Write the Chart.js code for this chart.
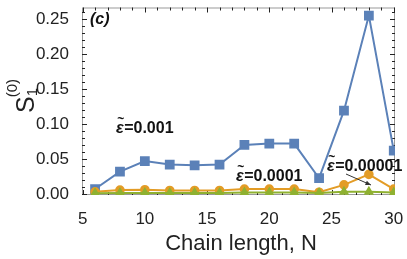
<!DOCTYPE html>
<html>
<head>
<meta charset="utf-8">
<script src="https://cdn.jsdelivr.net/npm/chart.js@4/dist/chart.umd.min.js"></script>
<style>
  body { margin: 0; background: #fff; }
  canvas { display: block; }
</style>
</head>
<body>
<canvas id="myChart" width="407" height="259"></canvas>
<script>
// datos
const chainN = [6, 8, 10, 12, 14, 16, 18, 20, 22, 24, 26, 28, 30];
const eps001 = [0.007, 0.032, 0.047, 0.042, 0.041, 0.042, 0.070, 0.072, 0.072, 0.0225, 0.119, 0.255, 0.062];
const eps0001 = [0.003, 0.0055, 0.006, 0.005, 0.005, 0.005, 0.007, 0.007, 0.007, 0.0025, 0.013, 0.028, 0.007];
const eps00001 = [0.001, 0.0015, 0.0015, 0.0015, 0.0015, 0.0015, 0.002, 0.002, 0.002, 0.0015, 0.003, 0.003, 0.002];
const xTicks = [5, 10, 15, 20, 25, 30];
const yTicks = [0, 0.05, 0.10, 0.15, 0.20, 0.25];
const epsValues = ["0.001", "0.0001", "0.00001"];

const FONT = "'Liberation Sans', Arial, sans-serif";
const BLUE = "#5b81b8";
const ORANGE = "#e39c26";
const GREEN = "#8fb131";

function toPoints(vals) {
  return chainN.map((n, i) => ({ x: n, y: vals[i] }));
}

// epsilon con tilde + valor
function drawEpsLabel(ctx, value, x, y) {
  ctx.font = "italic bold 16px " + FONT;
  ctx.fillText("\u03b5", x, y);
  const ew = ctx.measureText("\u03b5").width;
  ctx.font = "bold 12px " + FONT;
  const tw = ctx.measureText("~").width;
  ctx.fillText("~", x + ew / 2 - tw / 2 + 1, y - 9);
  ctx.font = "bold 16px " + FONT;
  ctx.fillText("=" + value, x + ew + 0.5, y);
}

//Plugin para el marco estilo Mathematica y los textos
const framePlugin = {
  id: "frame",
  beforeDatasetsDraw(chart) {
    const { ctx, chartArea: a, scales } = chart;
    const xs = scales.x, ys = scales.y;
    ctx.save();
    ctx.strokeStyle = "#9a9a9a";
    ctx.lineWidth = 1;
    ctx.strokeRect(a.left + 0.5, a.top + 0.5, a.right - a.left - 1, a.bottom - a.top - 1);
    ctx.strokeStyle = "#222";
    ctx.beginPath();
    for (let n = 5; n <= 30; n++) {
      const px = Math.round(xs.getPixelForValue(n)) + 0.5;
      const len = n % 5 === 0 ? 5 : 3;
      ctx.moveTo(px, a.bottom); ctx.lineTo(px, a.bottom - len);
      ctx.moveTo(px, a.top); ctx.lineTo(px, a.top + len);
    }
    for (let k = 0; k <= 26; k++) {
      const v = k / 100;
      const py = Math.round(ys.getPixelForValue(v)) + 0.5;
      const len = k % 5 === 0 ? 5 : 3;
      ctx.moveTo(a.left, py); ctx.lineTo(a.left + len, py);
      ctx.moveTo(a.right, py); ctx.lineTo(a.right - len, py);
    }
    ctx.stroke();
    ctx.restore();
  },
  afterDatasetsDraw(chart) {
    const { ctx } = chart;
    ctx.save();
    ctx.fillStyle = "#111";
    ctx.textBaseline = "middle";
    ctx.textAlign = "left";
    ctx.font = "italic bold 16px " + FONT;
    ctx.fillText("(c)", 90, 20);
    drawEpsLabel(ctx, epsValues[0], 116, 129);
    drawEpsLabel(ctx, epsValues[1], 236, 177);
    drawEpsLabel(ctx, epsValues[2], 327, 167);

    // flecha
    const x0 = 346, y0 = 174, x1 = 371, y1 = 185;
    ctx.strokeStyle = "#333";
    ctx.fillStyle = "#333";
    ctx.lineWidth = 1;
    ctx.beginPath();
    ctx.moveTo(x0, y0); ctx.lineTo(x1, y1); ctx.stroke();
    const ang = Math.atan2(y1 - y0, x1 - x0);
    ctx.beginPath();
    ctx.moveTo(x1, y1);
    ctx.lineTo(x1 - 6 * Math.cos(ang - 0.4), y1 - 6 * Math.sin(ang - 0.4));
    ctx.lineTo(x1 - 6 * Math.cos(ang + 0.4), y1 - 6 * Math.sin(ang + 0.4));
    ctx.closePath();
    ctx.fill();

    // título eje x
    ctx.fillStyle = "#222";
    ctx.textAlign = "center";
    ctx.textBaseline = "alphabetic";
    ctx.font = "22px " + FONT;
    ctx.fillText("Chain length, N", 241, 250);

    // título eje y: S_1^(0)
    ctx.translate(34, 113);
    ctx.rotate(-Math.PI / 2);
    ctx.textAlign = "left";
    ctx.font = "25px " + FONT;
    ctx.fillText("S", 0, 0);
    const sw = ctx.measureText("S").width;
    ctx.font = "15px " + FONT;
    ctx.fillText("1", sw, 3);
    ctx.fillText("(0)", sw - 1, -17);
    ctx.restore();
  }
};

const config = {
  type: "line",
  data: {
    datasets: [
      {
        label: "0.001",
        data: toPoints(eps001),
        borderColor: BLUE,
        backgroundColor: BLUE,
        borderWidth: 2,
        pointStyle: "rect",
        pointRadius: 5.5,
        order: 3,
      },
      {
        label: "0.0001",
        data: toPoints(eps0001),
        borderColor: ORANGE,
        backgroundColor: ORANGE,
        borderWidth: 2,
        pointStyle: "circle",
        pointRadius: 3.8,
        order: 2,
      },
      {
        label: "0.00001",
        data: toPoints(eps00001),
        borderColor: GREEN,
        backgroundColor: GREEN,
        borderWidth: 2,
        pointStyle: "triangle",
        pointRadius: 4,
        order: 1,
      },
    ],
  },
  options: {
    responsive: false,
    animation: false,
    layout: { padding: { left: 0, right: 12, top: 0, bottom: 0 } },
    plugins: { legend: { display: false }, tooltip: { enabled: false } },
    scales: {
      x: {
        type: "linear",
        min: 4.95,
        max: 30.1,
        grid: { display: false },
        border: { display: false },
        afterBuildTicks: (s) => { s.ticks = xTicks.map((v) => ({ value: v })); },
        afterFit: (s) => { s.height = 64; s.paddingLeft = 0; s.paddingRight = 0; },
        ticks: { color: "#222", font: { family: FONT, size: 17 }, padding: 6, maxRotation: 0 },
      },
      y: {
        min: -0.0015,
        max: 0.2665,
        grid: { display: false },
        border: { display: false },
        afterBuildTicks: (s) => { s.ticks = yTicks.map((v) => ({ value: v })); },
        afterFit: (s) => { s.width = 82; s.paddingTop = 0; s.paddingBottom = 0; },
        ticks: {
          color: "#222",
          font: { family: FONT, size: 17 },
          padding: 5,
          callback: (v) => Number(v).toFixed(2),
        },
      },
    },
  },
  plugins: [framePlugin],
};

const myChart = document.getElementById("myChart");
new Chart(myChart, config);
</script>
</body>
</html>
